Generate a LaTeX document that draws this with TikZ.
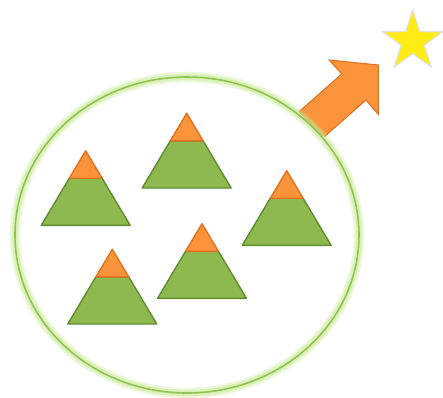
\documentclass[tikz,border=0pt]{standalone}
\usetikzlibrary{shapes.geometric}
\definecolor{leafgreen}{RGB}{141,185,78}
\definecolor{leafedge}{RGB}{98,140,50}
\definecolor{peakorange}{RGB}{250,148,58}
\definecolor{peakedge}{RGB}{226,112,34}
\definecolor{ringgreen}{RGB}{146,194,82}
\definecolor{glowgreen}{RGB}{200,234,150}
\definecolor{staryellow}{RGB}{255,236,20}
\tikzset{
  hill/.style={fill=leafgreen,draw=leafedge,line width=0.8pt,line join=round},
  peak/.style={fill=peakorange,draw=peakedge,line width=0.8pt,line join=round},
  glow/.style={draw=glowgreen,opacity=#1},
}

\begin{document}
\begin{tikzpicture}[x=0.02cm,y=-0.02cm]
  \useasboundingbox (0,0) rectangle (443,397);
  \coordinate (ring) at (187,235);
  % block arrow towards the star
  \draw[fill=peakorange,draw=peakedge,line width=0.6pt,line join=miter]
    (299,111.7) -- (341.7,74) -- (329.3,60) -- (378.3,65) -- (378.3,114.3)
    -- (366,100) -- (324.3,136.7) -- cycle;
  % soft glow round the ring
  \draw[glow=0.35,line width=6pt] (ring) ellipse [x radius=172, y radius=158];
  \draw[glow=0.5,line width=3.5pt] (ring) ellipse [x radius=172, y radius=158];
  \draw[draw=ringgreen,line width=0.9pt] (ring) ellipse [x radius=172, y radius=158];
  % hills
  \foreach \ax/\ay in {85.7/150.7,186.7/113.3,286.7/170.7,112.3/249.3,202/223.7} {
    \begin{scope}[shift={(\ax,\ay)}]
      \draw[hill] (-44.5,74.7) -- (44.5,74.7) -- (16.4,27.5) -- (-16.4,27.5) -- cycle;
      \draw[peak] (0,0) -- (16.4,27.5) -- (-16.4,27.5) -- cycle;
    \end{scope}
  }
  \node[star,star points=5,star point ratio=2.6,minimum size=1.26cm,inner sep=0pt,
        fill=staryellow,draw=black!12,line width=0.6pt] (goal) at (412.7,41.5) {};
\end{tikzpicture}
\end{document}
